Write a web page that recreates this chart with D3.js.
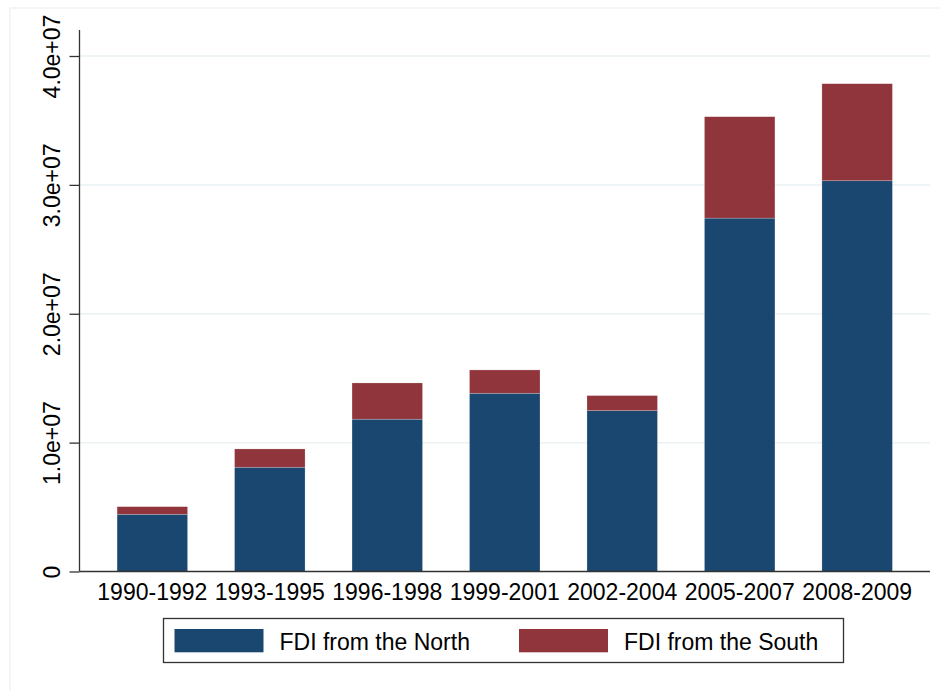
<!DOCTYPE html>
<html>
<head>
<meta charset="utf-8">
<script src="https://cdn.jsdelivr.net/npm/d3@7/dist/d3.min.js"></script>
<style>
  html, body { margin: 0; padding: 0; background: #fff; }
  svg { display: block; font-family: "Liberation Sans", Arial, Helvetica, sans-serif; }
</style>
</head>
<body>
<svg id="chart" width="941" height="691"></svg>
<script>
const categories = ["1990-1992", "1993-1995", "1996-1998", "1999-2001", "2002-2004", "2005-2007", "2008-2009"];
const north = [4.44e6, 8.09e6, 11.82e6, 13.83e6, 12.48e6, 27.42e6, 30.32e6];
const south = [0.59e6, 1.42e6, 2.81e6, 1.81e6, 1.17e6, 7.87e6, 7.53e6];
const seriesNames = ["FDI from the North", "FDI from the South"];
const yTicks = [0, 1e7, 2e7, 3e7, 4e7];
const yTickLabels = ["0", "1.0e+07", "2.0e+07", "3.0e+07", "4.0e+07"];

const colors = ["#1a476f", "#90353b"];
const svg = d3.select("#chart");

// outer faint frame
svg.append("rect").attr("x", 10).attr("y", 8).attr("width", 960).attr("height", 720)
  .attr("fill", "none").attr("stroke", "#ececec").attr("stroke-width", 1);

const left = 79.5, right = 930, bottom = 571.5;
const y = d3.scaleLinear().domain([0, 4e7]).range([bottom, 56]);
const x = d3.scaleBand().domain(categories).range([left, right]).paddingInner(0.4).paddingOuter(0.32);

// gridlines
svg.append("g").selectAll("line").data(yTicks.slice(1)).join("line")
  .attr("x1", left).attr("x2", right)
  .attr("y1", d => y(d)).attr("y2", d => y(d))
  .attr("stroke", "#eaf2f3").attr("stroke-width", 1.5);

// stacked bars
const rows = categories.map((c, i) => ({ cat: c, north: north[i], south: south[i] }));
const stack = d3.stack().keys(["north", "south"])(rows);
svg.append("g").selectAll("g").data(stack).join("g")
  .attr("fill", (d, i) => colors[i])
  .selectAll("rect").data(d => d).join("rect")
  .attr("x", d => x(d.data.cat))
  .attr("width", x.bandwidth())
  .attr("y", d => y(d[1]))
  .attr("height", d => y(d[0]) - y(d[1]))
  .attr("stroke", "rgba(255,255,255,0.35)").attr("stroke-width", 0.6);

// y axis
const yAxis = d3.axisLeft(y).tickValues(yTicks).tickSize(10).tickPadding(0)
  .tickFormat((d, i) => yTickLabels[i]);
const gy = svg.append("g").attr("transform", `translate(${left},0)`).call(yAxis);
gy.select(".domain").remove();
gy.selectAll(".tick line").attr("stroke", "#333").attr("stroke-width", 1.3);
gy.selectAll(".tick text")
  .attr("x", null).attr("dy", null)
  .attr("transform", "translate(-19.5,0) rotate(-90)")
  .attr("text-anchor", "middle")
  .attr("font-size", 23).attr("fill", "#000");
svg.append("line").attr("x1", left).attr("x2", left).attr("y1", 30).attr("y2", bottom)
  .attr("stroke", "#333").attr("stroke-width", 1.3);

// x axis
const xAxis = d3.axisBottom(x).tickSize(0).tickPadding(0);
const gx = svg.append("g").attr("transform", `translate(0,${bottom})`).call(xAxis);
gx.select(".domain").remove();
gx.selectAll(".tick text").attr("dy", null).attr("y", 28.5)
  .attr("font-size", 23).attr("fill", "#000");
svg.append("line").attr("x1", left).attr("x2", right).attr("y1", bottom).attr("y2", bottom)
  .attr("stroke", "#333").attr("stroke-width", 1.3);

// legend
const lg = svg.append("g");
lg.append("rect").attr("x", 163.5).attr("y", 618.5).attr("width", 680).attr("height", 44)
  .attr("fill", "#fff").attr("stroke", "#333").attr("stroke-width", 1.3);
const legendItems = [
  { sx: 174.5, tx: 279.5 },
  { sx: 519, tx: 624 }
];
legendItems.forEach((p, i) => {
  lg.append("rect").attr("x", p.sx).attr("y", 629).attr("width", 89).attr("height", 23.3)
    .attr("fill", colors[i]);
  lg.append("text").attr("x", p.tx).attr("y", 649.5).attr("font-size", 23).attr("fill", "#000")
    .text(seriesNames[i]);
});
</script>
</body>
</html>
